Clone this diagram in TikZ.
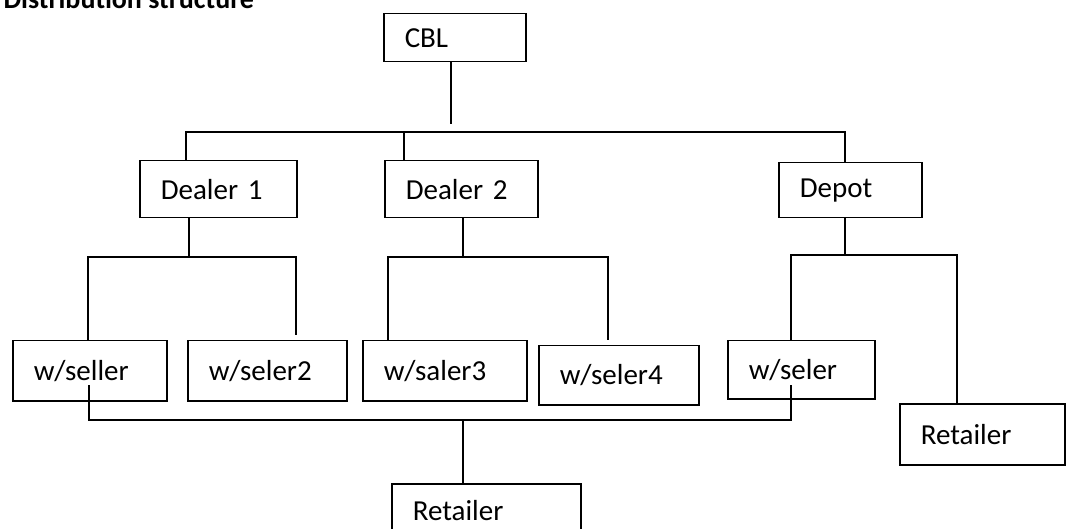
\documentclass[tikz,border=0pt]{standalone}
\usepackage{fontspec}
\setmainfont{Carlito}
\usepackage{tikz}

\begin{document}
\begin{tikzpicture}[x=1pt, y=-1pt,
    unit/.style={draw, line width=1.5pt, rectangle, anchor=north west, inner xsep=21pt, inner ysep=0pt, align=left, font=\fontsize{29}{34}\selectfont},
    lnk/.style={line width=1.5pt}]
    \useasboundingbox (0,0) rectangle (1066,529);
    \clip (0,0) rectangle (1066,529);

    \node [anchor=base west] [font=\fontsize{28}{34}\selectfont\bfseries] (ttl) at (0,9) {Distribution structure};

    \node [unit] [text width=100pt, minimum height=48pt] (cbl) at (383,13)  {CBL};
    \node [unit] [text width=115pt, minimum height=57pt] (dl1) at (139,160) {Dealer 1};
    \node [unit] [text width=111pt, minimum height=57pt] (dl2) at (384,160) {Dealer 2};
    \node [unit] [text width=101pt, minimum height=55pt] (dep) at (778,162) {Depot};
    \node [unit] [text width=112pt, minimum height=60pt] (ws1) at (12,340)  {w/seller};
    \node [unit] [text width=117pt, minimum height=60pt] (ws2) at (187,340) {w/seler2};
    \node [unit] [text width=122pt, minimum height=60pt] (ws3) at (362,340) {w/saler3};
    \node [unit] [text width=118pt, minimum height=59pt] (ws4) at (538,345) {w/seler4};
    \node [unit] [text width=105pt, minimum height=58pt] (ws5) at (727,340) {w/seler};
    \node [unit] [text width=123pt, minimum height=61pt] (rt1) at (899,403) {Retailer};
    \node [unit] [text width=147pt, minimum height=54pt] (rt2) at (391,483) {Retailer};

    \coordinate (cblend) at (451,124);
    \coordinate (t1) at (186,132);
    \coordinate (t2) at (404,132);
    \coordinate (t3) at (845,132);
    \coordinate (d1) at (189,257);
    \coordinate (d1l) at (88,257);
    \coordinate (d1r) at (296,257);
    \coordinate (g2) at (296,335);
    \coordinate (d2) at (463,257);
    \coordinate (d2l) at (388,257);
    \coordinate (d2r) at (608,257);
    \coordinate (g4) at (608,340);
    \coordinate (p) at (845,255);
    \coordinate (pl) at (791,255);
    \coordinate (pr) at (957,255);
    \coordinate (s1) at (89,385);
    \coordinate (s5) at (791,385);
    \coordinate (bb) at (463,420);

    \draw [lnk] (cbl.south -| cblend) -- (cblend);
    \draw [lnk] (dl1.north -| t1) |- (t3) -- (dep.north -| t3);
    \draw [lnk] (t2) -- (dl2.north -| t2);

    \draw [lnk] (dl1.south -| d1) -- (d1);
    \draw [lnk] (ws1.north -| d1l) |- (d1r) -- (g2);

    \draw [lnk] (dl2.south -| d2) -- (d2);
    \draw [lnk] (ws3.north -| d2l) |- (d2r) -- (g4);

    \draw [lnk] (dep.south -| p) -- (p);
    \draw [lnk] (ws5.north -| pl) |- (pr) -- (rt1.north -| pr);

    \draw [lnk] (s1) |- (bb) -| (s5);
    \draw [lnk] (bb) -- (rt2.north -| bb);

\end{tikzpicture}
\end{document}
